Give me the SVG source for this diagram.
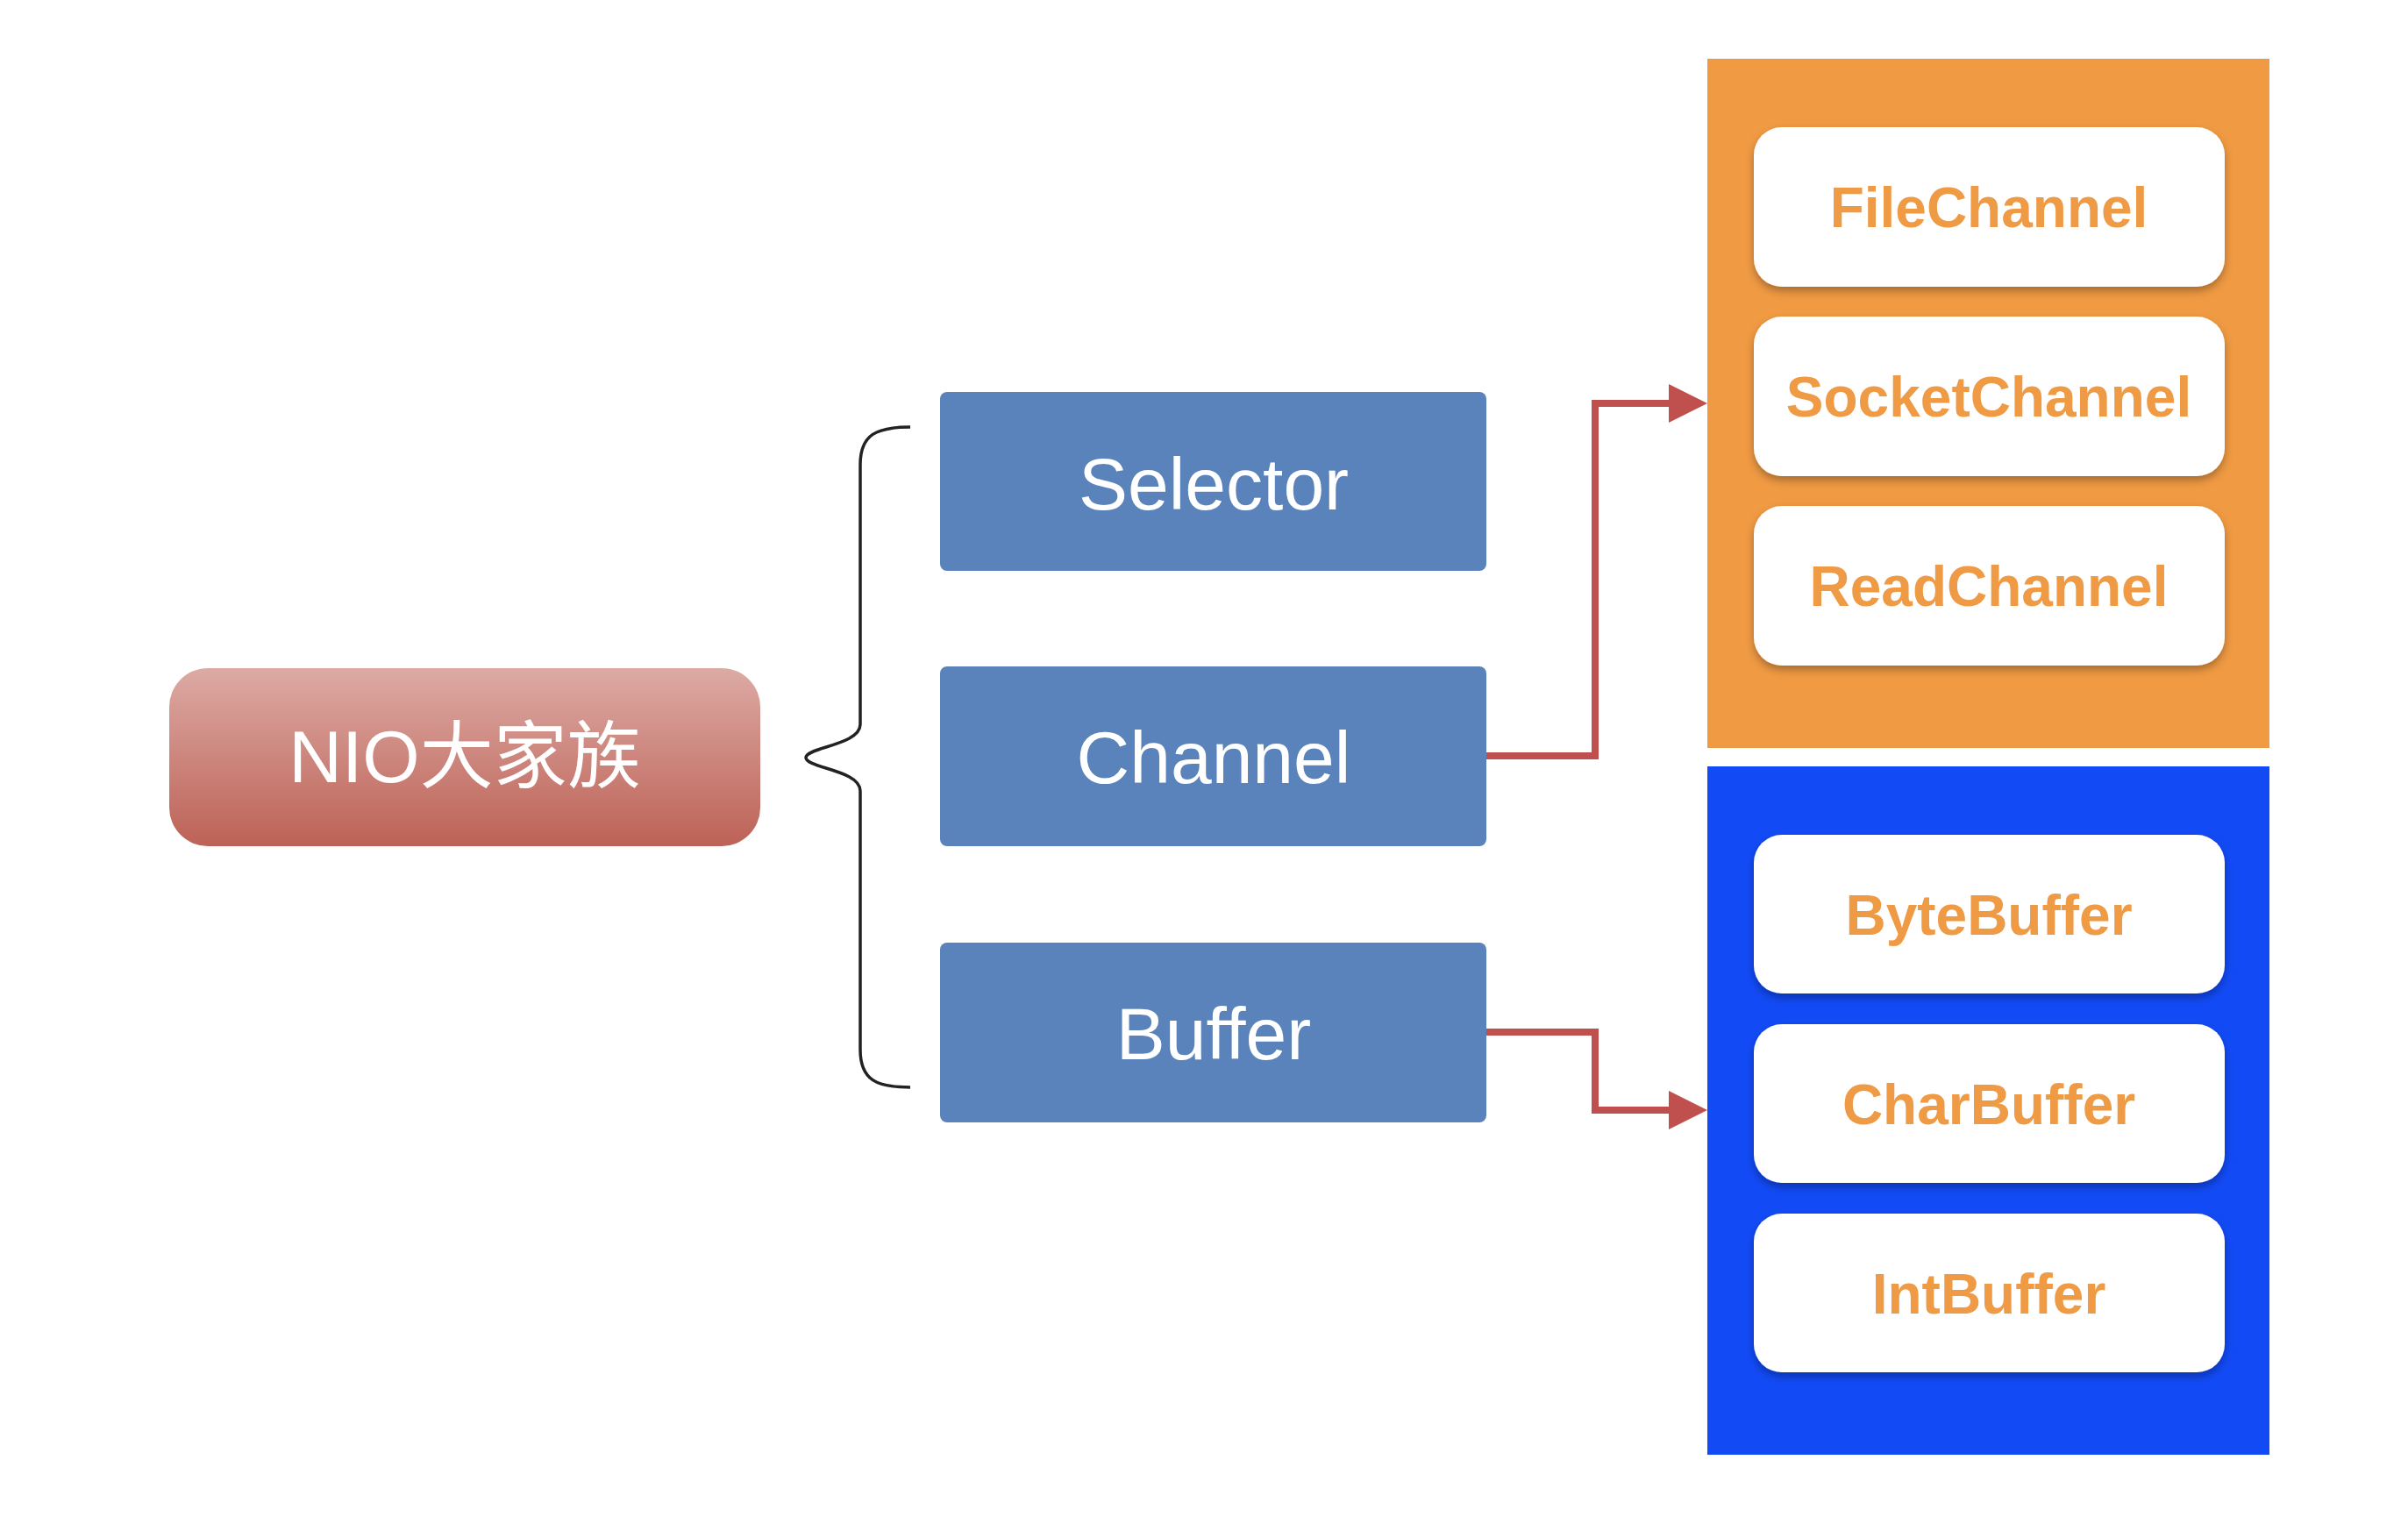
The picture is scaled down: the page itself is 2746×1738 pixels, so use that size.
<svg xmlns="http://www.w3.org/2000/svg" width="2746" height="1738" viewBox="0 0 2746 1738">
<defs>
<linearGradient id="nioGrad" x1="0" y1="0" x2="0" y2="1">
<stop offset="0" stop-color="#DCAAA4"/>
<stop offset="1" stop-color="#BD6256"/>
</linearGradient>
<filter id="shadow" x="-10%" y="-20%" width="120%" height="150%">
<feDropShadow dx="0" dy="5" stdDeviation="5" flood-color="#000" flood-opacity="0.3"/>
</filter>
<marker id="arrow" markerWidth="44" markerHeight="44" refX="7" refY="22" markerUnits="userSpaceOnUse" orient="auto">
<path d="M0,0 L44,22 L0,44 Z" fill="#C0504D"/>
</marker>
<style>
.blue{fill:#5983BA}
.blueText{font-family:"Liberation Sans",Arial,sans-serif;font-size:84px;fill:#ffffff;text-anchor:middle}
.item{fill:#ffffff;filter:url(#shadow)}
.itemText{font-family:"Liberation Sans",Arial,sans-serif;font-size:64px;font-weight:bold;fill:#EF9A44;text-anchor:middle}
.conn{fill:none;stroke:#C0504D;stroke-width:8}
</style>
</defs>
<rect width="2746" height="1738" fill="#ffffff"/>

<g id="nio">
<rect x="193" y="762" width="674" height="203" rx="44" fill="url(#nioGrad)"/>
<text x="530" y="892" font-family="Liberation Sans,'Noto Sans CJK SC',sans-serif" font-size="84" fill="#ffffff" text-anchor="middle">NIO大家族</text>
</g>

<g id="brace">
<path d="M1038,487 C1000,487 981,495 981,530 L981,826 C981,850 919,852 919,864 C919,876 981,878 981,902 L981,1197 C981,1232 1000,1240 1038,1240" fill="none" stroke="#222" stroke-width="3.5"/>
</g>

<g id="selector">
<rect class="blue" x="1072" y="447" width="623" height="204" rx="8"/>
<text class="blueText" x="1384" y="581">Selector</text>
</g>
<g id="channel">
<rect class="blue" x="1072" y="760" width="623" height="205" rx="8"/>
<text class="blueText" x="1384" y="893">Channel</text>
</g>
<g id="buffer">
<rect class="blue" x="1072" y="1075" width="623" height="205" rx="8"/>
<text class="blueText" x="1384" y="1208">Buffer</text>
</g>

<g id="channelGroup">
<rect x="1947" y="67" width="641" height="786" fill="#F09A43"/>
<g id="fileChannel">
<rect class="item" x="2000" y="145" width="537" height="182" rx="32"/>
<text class="itemText" x="2268" y="259">FileChannel</text>
</g>
<g id="socketChannel">
<rect class="item" x="2000" y="361" width="537" height="182" rx="32"/>
<text class="itemText" x="2268" y="475">SocketChannel</text>
</g>
<g id="readChannel">
<rect class="item" x="2000" y="577" width="537" height="182" rx="32"/>
<text class="itemText" x="2268" y="691">ReadChannel</text>
</g>
</g>

<g id="bufferGroup">
<rect x="1947" y="874" width="641" height="785" fill="#124AF5"/>
<g id="byteBuffer">
<rect class="item" x="2000" y="952" width="537" height="181" rx="32"/>
<text class="itemText" x="2268" y="1066">ByteBuffer</text>
</g>
<g id="charBuffer">
<rect class="item" x="2000" y="1168" width="537" height="181" rx="32"/>
<text class="itemText" x="2268" y="1282">CharBuffer</text>
</g>
<g id="intBuffer">
<rect class="item" x="2000" y="1384" width="537" height="181" rx="32"/>
<text class="itemText" x="2268" y="1498">IntBuffer</text>
</g>
</g>

<g id="connectors">
<path class="conn" d="M1695,862 L1819,862 L1819,460 L1910,460" marker-end="url(#arrow)"/>
<path class="conn" d="M1695,1177 L1819,1177 L1819,1266 L1910,1266" marker-end="url(#arrow)"/>
</g>
</svg>
